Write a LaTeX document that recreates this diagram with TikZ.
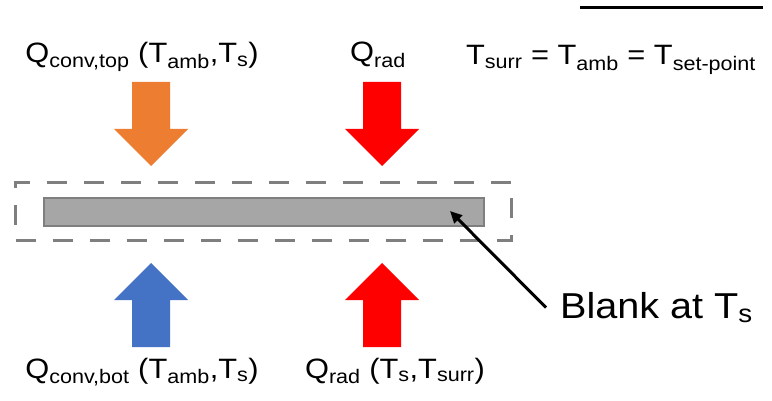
\documentclass[tikz,border=0pt]{standalone}
\usepackage{fontspec}
\setmainfont{Liberation Sans}[FakeStretch=1.1]
\usetikzlibrary{arrows.meta}

\definecolor{convorange}{HTML}{ED7D31}
\definecolor{convblue}{HTML}{4472C4}
\definecolor{radred}{HTML}{FF0000}
\definecolor{plategray}{HTML}{A6A6A6}
\definecolor{edgegray}{HTML}{7F7F7F}

\tikzset{
  fluxlabel/.style={anchor=base, inner sep=0pt, font=\fontsize{28}{34}\selectfont},
  heatflux/.pic={\path[pic actions] (-19,0) -- (19,0) -- (19,47) -- (37,47) -- (0,84) -- (-37,47) -- (-19,47) -- cycle;},
}

\begin{document}
\begin{tikzpicture}[x=1pt, y=-1pt]
		\useasboundingbox (0,0) rectangle (772,401);
		
		% Scale bar
		\coordinate (rulestart) at (580,8);
		\coordinate (ruleend) at (763,8);
		\draw[line width=3pt] (rulestart) -- (ruleend);
		
		% Control volume and blank
		\node[draw=edgegray, line width=3pt, dash pattern=on 20pt off 17pt, minimum width=496pt, minimum height=58pt, inner sep=0pt] (envelope) at (263.5,211.5) {};
		\node[draw=edgegray, fill=plategray, line width=2pt, minimum width=440pt, minimum height=28pt, inner sep=0pt] (plate) at (264,212) {};
		
		% Heat flux arrows
		\pic[fill=convorange] at (151,82) {heatflux};
		\pic[fill=radred] at (382,82) {heatflux};
		\pic[fill=convblue, rotate=180] at (151,347) {heatflux};
		\pic[fill=radred, rotate=180] at (382,347) {heatflux};
		
		% Labels
		\node[fluxlabel] (qtop) at (142,63) {Q\textsubscript{conv,top} (T\textsubscript{amb},T\textsubscript{s})};
		\node[fluxlabel] (qradtop) at (378,62) {Q\textsubscript{rad}};
		\node[fluxlabel] (tset) at (611,65) {T\textsubscript{surr} = T\textsubscript{amb} = T\textsubscript{set-point}};
		\node[fluxlabel] (qbot) at (142,378) {Q\textsubscript{conv,bot} (T\textsubscript{amb},T\textsubscript{s})};
		\node[fluxlabel] (qradbot) at (395,378) {Q\textsubscript{rad} (T\textsubscript{s},T\textsubscript{surr})};
		
		% Blank callout
		\node[anchor=base west, inner xsep=14pt, inner ysep=0pt, font=\fontsize{36}{43}\selectfont] (blank) at (546,318) {Blank at T\textsubscript{s}};
		\coordinate (bartip) at (450,211);
		\draw[line width=3pt, -{Triangle[length=12pt,width=11pt]}] (blank.west) -- (bartip);
	\end{tikzpicture}
\end{document}
